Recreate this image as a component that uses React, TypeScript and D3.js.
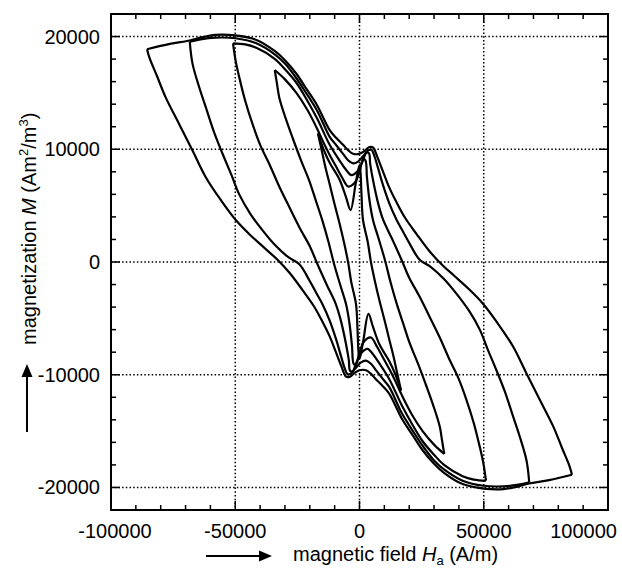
import React, { useEffect, useRef } from 'react';
import * as d3 from 'd3';

const xTicks = [-100000, -50000, 0, 50000, 100000];
const yTicks = [-20000, -10000, 0, 10000, 20000];

// upper branches, H going down (right tip -> left tip), [H, M]
const loop5Down = [[85500,-18870],[84500,-18100],[81500,-16500],[78000,-14600],[72500,-12200],[67000,-9800],[61800,-7500],[55500,-5400],[49700,-3700],[44000,-2400],[38000,-1200],[33000,-200],[28000,1000],[22900,2500],[18400,3900],[14900,5300],[12000,6600],[9500,8000],[7200,9300],[5500,10150],[4000,10200],[2000,9850],[0,9600],[-2600,9600],[-4500,9900],[-6600,10400],[-9300,11000],[-12000,11700],[-17300,14000],[-21500,15400],[-25400,16700],[-30000,17900],[-34000,18700],[-41500,19700],[-50000,20100],[-58000,20150],[-64000,19900],[-68300,19650],[-76300,19350],[-85500,18870]];
const loop4Down = [[68300,-19540],[67200,-17600],[64500,-15500],[61800,-13700],[58500,-11500],[55100,-9600],[51500,-7700],[48400,-6000],[44000,-4300],[39000,-2800],[34000,-1500],[28500,-400],[24200,200],[20000,1700],[17000,2900],[14900,3750],[12000,5200],[9500,6800],[7500,8300],[6000,9400],[4800,9950],[3500,9900],[1500,9400],[-600,8900],[-2600,8750],[-4500,9000],[-7000,9700],[-9500,10400],[-12000,11100],[-17000,13400],[-21500,15000],[-25400,16300],[-30000,17600],[-34000,18400],[-41500,19400],[-50000,19850],[-58000,19900],[-64000,19750],[-68300,19540]];
const loop3Down = [[50900,-19400],[49800,-17800],[48400,-16400],[46000,-14300],[43000,-12200],[39800,-10300],[36300,-8700],[32300,-6700],[28200,-4850],[24000,-3000],[20000,-1400],[16900,200],[13000,2100],[9500,3750],[7500,5200],[5500,7200],[4300,8700],[3800,9650],[2800,9700],[1000,8800],[-1000,8000],[-3200,7700],[-5500,8200],[-8000,9000],[-12000,10400],[-17000,12700],[-21500,14500],[-25400,15900],[-30000,17100],[-34000,18000],[-41500,19000],[-46000,19300],[-50900,19400]];
const loop2Down = [[34100,-17030],[33200,-15800],[32300,-14600],[29800,-12800],[26900,-11000],[23500,-9000],[20200,-7200],[17500,-5400],[14900,-3650],[12500,-1800],[10200,200],[7800,2000],[5400,3750],[4000,5500],[3000,7500],[2400,9000],[1500,9150],[0,8000],[-2000,7000],[-4600,6700],[-7000,7500],[-9000,8300],[-12000,9500],[-14500,10600],[-17000,11800],[-21000,13500],[-25400,15000],[-30000,16200],[-34100,17030]];
const loop1Down = [[16700,-11400],[15000,-9700],[13500,-8200],[12000,-6900],[10000,-5100],[8000,-3400],[6200,-1700],[4600,0],[3300,1800],[1400,3750],[800,6000],[400,8000],[0,8600],[-1500,7000],[-3600,4600],[-5500,5800],[-8000,7300],[-12000,8800],[-14500,10000],[-16700,11400]];

// lower branches, H going up (left tip -> right tip)
const loop5Up = [[-85500,18870],[-84500,18100],[-81500,16500],[-78000,14600],[-72500,12200],[-67000,9800],[-61800,7500],[-55500,5400],[-49700,3700],[-44000,2400],[-38000,1200],[-33000,200],[-28000,-1000],[-22900,-2500],[-18400,-3900],[-14900,-5300],[-12000,-6600],[-9500,-8000],[-7200,-9300],[-5500,-10150],[-4000,-10200],[-2000,-9850],[0,-9600],[2600,-9600],[4500,-9900],[6600,-10400],[9300,-11000],[12000,-11700],[17300,-14000],[21500,-15400],[25400,-16700],[30000,-17900],[34000,-18700],[41500,-19700],[50000,-20100],[58000,-20150],[64000,-19900],[68300,-19650],[76300,-19350],[85500,-18870]];
const loop4Up = [[-68300,19540],[-67200,17600],[-64500,15500],[-61800,13700],[-58500,11500],[-55100,9600],[-51500,7700],[-48400,6000],[-44000,4300],[-39000,2800],[-34000,1500],[-28500,400],[-24200,-200],[-20000,-1700],[-17000,-2900],[-14900,-3750],[-12000,-5200],[-9500,-6800],[-7500,-8300],[-6000,-9400],[-4800,-9950],[-3500,-9900],[-1500,-9400],[600,-8900],[2600,-8750],[4500,-9000],[7000,-9700],[9500,-10400],[12000,-11100],[17000,-13400],[21500,-15000],[25400,-16300],[30000,-17600],[34000,-18400],[41500,-19400],[50000,-19850],[58000,-19900],[64000,-19750],[68300,-19540]];
const loop3Up = [[-50900,19400],[-49800,17800],[-48400,16400],[-46000,14300],[-43000,12200],[-39800,10300],[-36300,8700],[-32300,6700],[-28200,4850],[-24000,3000],[-20000,1400],[-16900,-200],[-13000,-2100],[-9500,-3750],[-7500,-5200],[-5500,-7200],[-4300,-8700],[-3800,-9650],[-2800,-9700],[-1000,-8800],[1000,-8000],[3200,-7700],[5500,-8200],[8000,-9000],[12000,-10400],[17000,-12700],[21500,-14500],[25400,-15900],[30000,-17100],[34000,-18000],[41500,-19000],[46000,-19300],[50900,-19400]];
const loop2Up = [[-34100,17030],[-33200,15800],[-32300,14600],[-29800,12800],[-26900,11000],[-23500,9000],[-20200,7200],[-17500,5400],[-14900,3650],[-12500,1800],[-10200,-200],[-7800,-2000],[-5400,-3750],[-4000,-5500],[-3000,-7500],[-2400,-9000],[-1500,-9150],[0,-8000],[2000,-7000],[4600,-6700],[7000,-7500],[9000,-8300],[12000,-9500],[14500,-10600],[17000,-11800],[21000,-13500],[25400,-15000],[30000,-16200],[34100,-17030]];
const loop1Up = [[-16700,11400],[-15000,9700],[-13500,8200],[-12000,6900],[-10000,5100],[-8000,3400],[-6200,1700],[-4600,0],[-3300,-1800],[-1400,-3750],[-800,-6000],[-400,-8000],[0,-8600],[1500,-7000],[3600,-4600],[5500,-5800],[8000,-7300],[12000,-8800],[14500,-10000],[16700,-11400]];

const branches = [loop1Down, loop2Down, loop3Down, loop4Down, loop5Down, loop1Up, loop2Up, loop3Up, loop4Up, loop5Up];

const App = () => {
    const chartRef = useRef<HTMLDivElement>(null);

    useEffect(() => {
        if (!chartRef.current) return;
        d3.select(chartRef.current).selectAll('*').remove();

        const width = 622;
        const height = 570;
        const font = '"Liberation Sans", Arial, sans-serif';

        const x = d3.scaleLinear().domain([-100000, 100000]).range([111, 608]);
        const y = d3.scaleLinear().domain([-22000, 22000]).range([510, 14]);
        const [x0, x1] = x.range();
        const [y0, y1] = y.range();

        const svg = d3.select(chartRef.current)
            .append('svg')
            .attr('width', width)
            .attr('height', height)
            .style('position', 'absolute')
            .style('left', '0px')
            .style('top', '0px')
            .style('background', '#fff');

        // dotted grid at the major ticks
        svg.append('g')
            .selectAll('line')
            .data(xTicks.slice(1, -1))
            .enter()
            .append('line')
            .attr('x1', d => x(d)).attr('x2', d => x(d))
            .attr('y1', y1).attr('y2', y0)
            .attr('stroke', '#000').attr('stroke-width', 1.5)
            .attr('stroke-dasharray', '1.5 2.2');
        svg.append('g')
            .selectAll('line')
            .data(yTicks)
            .enter()
            .append('line')
            .attr('x1', x0).attr('x2', x1)
            .attr('y1', d => y(d)).attr('y2', d => y(d))
            .attr('stroke', '#000').attr('stroke-width', 1.5)
            .attr('stroke-dasharray', '1.5 2.2');

        // ticks, inside on all four sides
        const xMinor = d3.range(-100000, 100001, 10000);
        const yMinor = d3.range(-22000, 22001, 2000);
        const tickG = svg.append('g').attr('stroke', '#000').attr('stroke-width', 1.5);
        xMinor.forEach(v => {
            const len = v % 50000 === 0 ? 9 : 5;
            tickG.append('line').attr('x1', x(v)).attr('x2', x(v)).attr('y1', y0).attr('y2', y0 - len);
            tickG.append('line').attr('x1', x(v)).attr('x2', x(v)).attr('y1', y1).attr('y2', y1 + len);
        });
        yMinor.forEach(v => {
            const len = v % 10000 === 0 ? 9 : 5;
            tickG.append('line').attr('y1', y(v)).attr('y2', y(v)).attr('x1', x0).attr('x2', x0 + len);
            tickG.append('line').attr('y1', y(v)).attr('y2', y(v)).attr('x1', x1).attr('x2', x1 - len);
        });

        // curves
        const line = d3.line<number[]>()
            .x(d => x(d[0]))
            .y(d => y(d[1]))
            .curve(d3.curveCatmullRom.alpha(0.5));

        svg.append('g')
            .selectAll('path')
            .data(branches)
            .enter()
            .append('path')
            .attr('d', d => line(d))
            .attr('fill', 'none')
            .attr('stroke', '#000')
            .attr('stroke-width', 2.2)
            .attr('stroke-linejoin', 'miter');

        // frame
        svg.append('rect')
            .attr('x', x0).attr('y', y1)
            .attr('width', x1 - x0).attr('height', y0 - y1)
            .attr('fill', 'none').attr('stroke', '#000').attr('stroke-width', 2);

        // tick labels (the last one is kept inside the picture)
        svg.append('g')
            .selectAll('text')
            .data(xTicks)
            .enter()
            .append('text')
            .attr('x', d => (d === 100000 ? 617 : x(d) + (d === -100000 ? 4 : 0)))
            .attr('y', 538)
            .attr('text-anchor', d => (d === 100000 ? 'end' : 'middle'))
            .style('font-family', font)
            .style('font-size', '20px')
            .text(d => String(d));
        svg.append('g')
            .selectAll('text')
            .data(yTicks)
            .enter()
            .append('text')
            .attr('x', 100)
            .attr('y', d => y(d) + 7)
            .attr('text-anchor', 'end')
            .style('font-family', font)
            .style('font-size', '20px')
            .text(d => String(d));

        // x title with arrow
        const xt = svg.append('text')
            .attr('x', 293).attr('y', 561)
            .style('font-family', font)
            .style('font-size', '20px');
        xt.append('tspan').text('magnetic field ');
        xt.append('tspan').style('font-style', 'italic').text('H');
        xt.append('tspan').attr('dy', 4).style('font-size', '13px').text('a');
        xt.append('tspan').attr('dy', -4).text(' (A/m)');

        svg.append('line').attr('x1', 206).attr('x2', 262).attr('y1', 556).attr('y2', 556)
            .attr('stroke', '#000').attr('stroke-width', 2);
        svg.append('path').attr('d', 'M272,556 L259,550.5 L259,561.5 Z').attr('fill', '#000');

        // y title with arrow
        const yt = svg.append('text')
            .attr('transform', 'translate(36,345) rotate(-90)')
            .style('font-family', font)
            .style('font-size', '20px');
        yt.append('tspan').text('magnetization ');
        yt.append('tspan').style('font-style', 'italic').text('M');
        yt.append('tspan').text(' (Am');
        yt.append('tspan').attr('dy', -8).style('font-size', '13px').text('2');
        yt.append('tspan').attr('dy', 8).text('/m');
        yt.append('tspan').attr('dy', -8).style('font-size', '13px').text('3');
        yt.append('tspan').attr('dy', 8).text(')');

        svg.append('line').attr('x1', 27).attr('x2', 27).attr('y1', 432).attr('y2', 374)
            .attr('stroke', '#000').attr('stroke-width', 2);
        svg.append('path').attr('d', 'M27,364 L21.5,377 L32.5,377 Z').attr('fill', '#000');
    }, []);

    return <div ref={chartRef}></div>;
};

export default App;
